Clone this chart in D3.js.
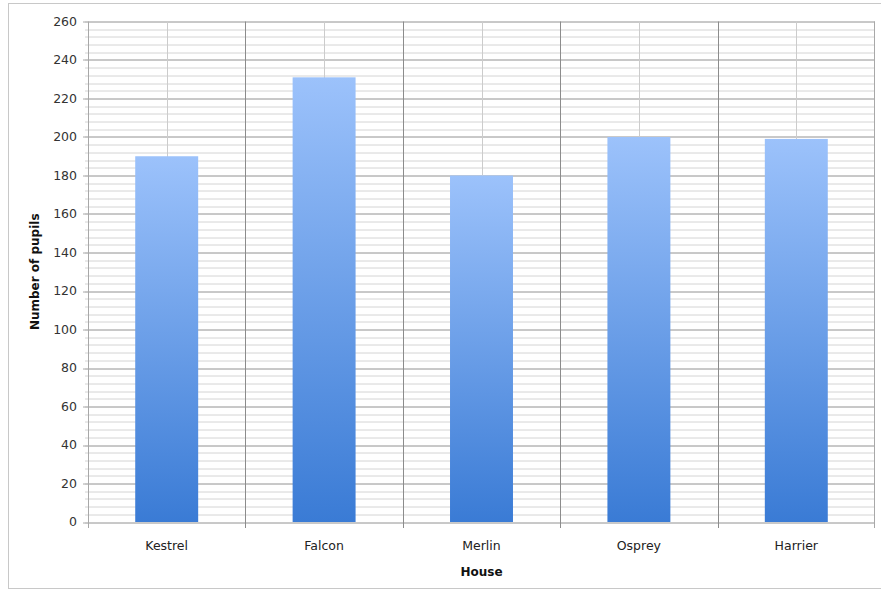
<!DOCTYPE html>
<html>
<head>
<meta charset="utf-8">
<script src="https://cdn.jsdelivr.net/npm/d3@7"></script>
<style>
  body { margin: 0; background: #fff; }
  text { font-family: "Comic Sans MS", "DejaVu Sans", sans-serif; }
</style>
</head>
<body>
<script>
var houses = ["Kestrel", "Falcon", "Merlin", "Osprey", "Harrier"];
var pupils = [190, 231, 180, 200, 199];
var yMajorTicks = [0, 20, 40, 60, 80, 100, 120, 140, 160, 180, 200, 220, 240, 260];

var width = 881, height = 591;
var margin = {top: 21.5, right: 6, bottom: 69, left: 88};

var svg = d3.select("body").append("svg")
    .attr("width", width)
    .attr("height", height);

// outer frame
svg.append("rect")
    .attr("x", 8.5).attr("y", 3.5)
    .attr("width", width + 10).attr("height", 585)
    .attr("fill", "none")
    .attr("stroke", "#c8c8c8");

var defs = svg.append("defs");
var grad = defs.append("linearGradient")
    .attr("id", "barGrad")
    .attr("x1", 0).attr("y1", 0).attr("x2", 0).attr("y2", 1);
grad.append("stop").attr("offset", "0%").attr("stop-color", "#9cc2fb");
grad.append("stop").attr("offset", "100%").attr("stop-color", "#3a7bd5");

var plotW = width - margin.left - margin.right,
    plotH = height - margin.top - margin.bottom;

var g = svg.append("g")
    .attr("transform", "translate(" + margin.left + "," + margin.top + ")");

var x = d3.scaleBand()
    .domain(houses)
    .range([0, plotW])
    .paddingInner(0.6)
    .paddingOuter(0.3);

var xb = d3.scaleBand().domain(houses).range([0, plotW]);

var y = d3.scaleLinear()
    .domain([0, 260])
    .range([plotH, 0]);

// minor horizontal grid
g.append("g")
    .selectAll("line")
    .data(d3.range(0, 261, 4))
    .enter().append("line")
    .attr("x1", -3).attr("x2", plotW)
    .attr("y1", function (d) { return Math.round(y(d)) + 0.5; })
    .attr("y2", function (d) { return Math.round(y(d)) + 0.5; })
    .attr("stroke", "#d4d4d4");

// major horizontal grid
g.append("g")
    .selectAll("line")
    .data(yMajorTicks)
    .enter().append("line")
    .attr("x1", -5).attr("x2", plotW)
    .attr("y1", function (d) { return Math.round(y(d)) + 0.5; })
    .attr("y2", function (d) { return Math.round(y(d)) + 0.5; })
    .attr("stroke", "#a8a8a8");

// vertical lines at category centres
g.append("g")
    .selectAll("line")
    .data(houses)
    .enter().append("line")
    .attr("x1", function (d) { return Math.round(xb(d) + xb.bandwidth() / 2) + 0.5; })
    .attr("x2", function (d) { return Math.round(xb(d) + xb.bandwidth() / 2) + 0.5; })
    .attr("y1", 0).attr("y2", plotH)
    .attr("stroke", "#cccccc");

// vertical category boundaries
g.append("g")
    .selectAll("line")
    .data(houses)
    .enter().append("line")
    .attr("x1", function (d) { return Math.round(xb(d)) + 0.5; })
    .attr("x2", function (d) { return Math.round(xb(d)) + 0.5; })
    .attr("y1", 0).attr("y2", plotH + 6)
    .attr("stroke", function (d, i) { return i === 0 ? "#a8a8a8" : "#8c8c8c"; });

// right border
g.append("line")
    .attr("x1", plotW - 0.5).attr("x2", plotW - 0.5)
    .attr("y1", 0).attr("y2", plotH + 6)
    .attr("stroke", "#a8a8a8");

// bars
g.append("g")
    .selectAll("rect")
    .data(pupils)
    .enter().append("rect")
    .attr("x", function (d, i) { return x(houses[i]); })
    .attr("y", function (d) { return y(d); })
    .attr("width", x.bandwidth())
    .attr("height", function (d) { return plotH - y(d); })
    .attr("fill", "url(#barGrad)");

// y tick labels
g.append("g")
    .selectAll("text")
    .data(yMajorTicks)
    .enter().append("text")
    .attr("x", -11)
    .attr("y", function (d) { return y(d); })
    .attr("dy", "0.35em")
    .attr("text-anchor", "end")
    .attr("font-size", 12.5)
    .attr("fill", "#333")
    .text(function (d) { return d; });

// x tick labels
g.append("g")
    .selectAll("text")
    .data(houses)
    .enter().append("text")
    .attr("x", function (d) { return xb(d) + xb.bandwidth() / 2; })
    .attr("y", plotH + 28)
    .attr("text-anchor", "middle")
    .attr("font-size", 12.5)
    .attr("fill", "#222")
    .text(function (d) { return d; });

// axis titles
svg.append("text")
    .attr("x", margin.left + plotW / 2)
    .attr("y", 576)
    .attr("text-anchor", "middle")
    .attr("font-size", 12)
    .attr("font-weight", "bold")
    .attr("fill", "#111")
    .text("House");

svg.append("text")
    .attr("transform", "translate(39," + (margin.top + plotH / 2) + ") rotate(-90)")
    .attr("text-anchor", "middle")
    .attr("font-size", 12)
    .attr("font-weight", "bold")
    .attr("fill", "#111")
    .text("Number of pupils");
</script>
</body>
</html>
